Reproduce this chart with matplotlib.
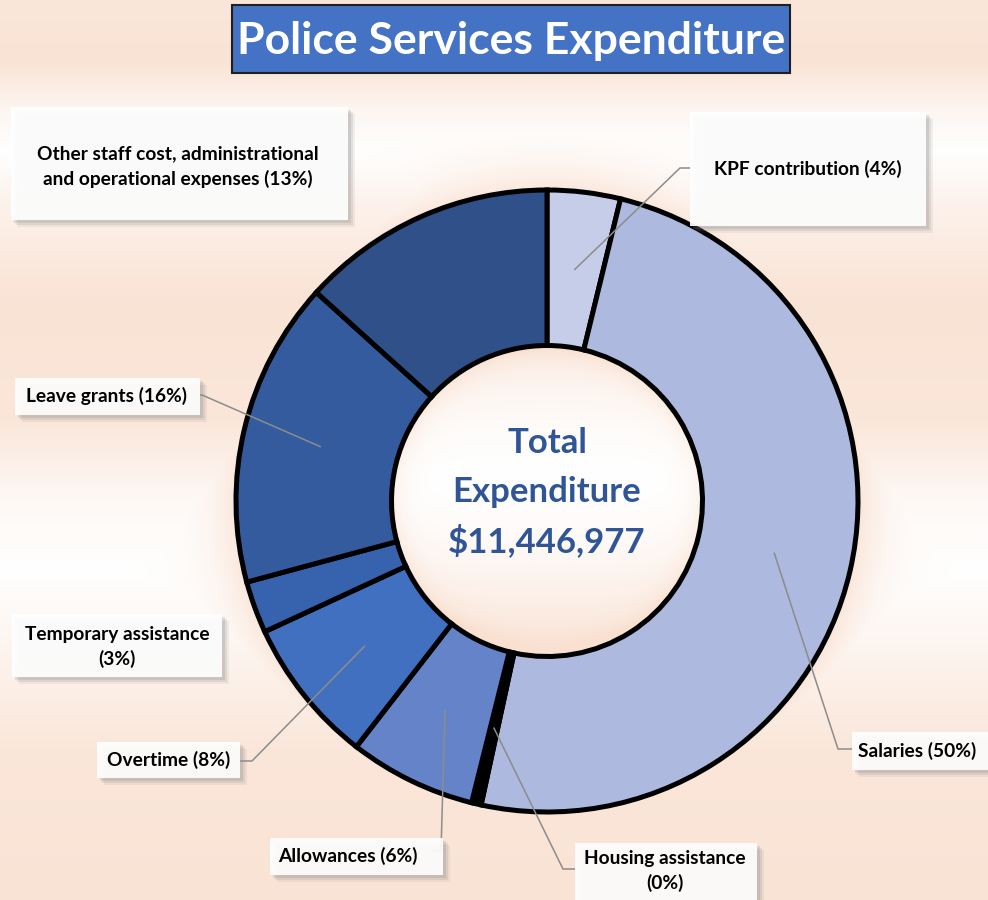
import matplotlib
matplotlib.use('Agg')
import matplotlib.pyplot as plt
from matplotlib.patches import Rectangle
import numpy as np

# data (share of total, %)
categories = ['KPF contribution', 'Salaries', 'Housing assistance', 'Allowances',
              'Overtime', 'Temporary assistance', 'Leave grants',
              'Other staff cost, administrational and operational expenses']
shares = [3.8, 49.6, 0.5, 6.6, 7.6, 2.7, 15.9, 13.3]
pct_labels = ['4%', '50%', '0%', '6%', '8%', '3%', '16%', '13%']
total = '$11,446,977'

colors = ['#C5CDE8', '#ADB9DE', '#000000', '#6583C9', '#4070BF',
          '#3763AE', '#355B9F', '#2F5089']

W, H = 988, 900
CX, CY, R = 547, 501, 311
FONT = 'Lato'

fig = plt.figure(figsize=(W / 100, H / 100), dpi=100)
ax = fig.add_axes([0, 0, 1, 1])
ax.set_xlim(0, W)
ax.set_ylim(H, 0)
ax.axis('off')

# background: peach / white bands plus a soft glow round the ring
yy, xx = np.mgrid[0:H, 0:W]
prof = np.interp(yy, [0, 60, 110, 150, 200, 300, 420, 500, 570, 640, 750, 900],
                 [0.8, 0.9, 0.3, 0.0, 0.4, 0.9, 0.8, 0.2, 0.0, 0.3, 0.8, 0.9])
d = np.hypot(xx - CX, yy - CY)
glow = np.where(d > R, 0.8 * np.exp(-(d - R) / 30.0), 0)
t = np.maximum(prof, glow)
u = (yy - CY) / (R * 0.5)
hole = 0.75 * np.clip(np.abs(u + 0.15), 0, 1) ** 1.6 + 0.5 * np.exp(-(R * 0.5 - d) / 12.0)
t = np.where(d < R * 0.5, np.clip(hole, 0, 1), t)
peach = np.array([249, 224, 208]) / 255.0
img = 1 - t[..., None] * (1 - peach)
ax.imshow(img, extent=(0, W, H, 0), zorder=0, interpolation='bilinear')

# donut
wedges, _ = ax.pie(shares, colors=colors, startangle=-90, counterclock=True,
                   center=(CX, CY), radius=R,
                   wedgeprops=dict(width=R * 0.5, edgecolor='black', linewidth=3.6))
ax.set_xlim(0, W)
ax.set_ylim(H, 0)
ax.set_aspect('equal')

# title
ax.add_patch(Rectangle((232, 5), 558, 68, facecolor='#4472C4', edgecolor='#1F1F1F',
                       linewidth=1.5, zorder=5))
ax.text(511, 41, 'Police Services Expenditure', color='white', fontsize=32,
        fontweight='bold', family=FONT, ha='center', va='center', zorder=6)

# centre text
for txt, y in zip(['Total', 'Expenditure', total], [443, 492, 541]):
    ax.text(CX, y, txt, color='#2F5597', fontsize=25, fontweight='bold', family=FONT,
            ha='center', va='center', zorder=6)

# label boxes: (x0, y0, x1, y1), text lines, text centre
boxes = {
    0: ((690, 112, 926, 226), [categories[0] + ' (' + pct_labels[0] + ')'], (808, 169)),
    1: ((852, 732, 988, 770), [categories[1] + ' (' + pct_labels[1] + ')'], (917, 751)),
    2: ((575, 843, 757, 900), [categories[2], '(' + pct_labels[2] + ')'], (665, 871)),
    3: ((270, 838, 443, 875), [categories[3] + ' (' + pct_labels[3] + ')'], (348, 856)),
    4: ((97, 742, 240, 778), [categories[4] + ' (' + pct_labels[4] + ')'], (169, 760)),
    5: ((12, 614, 222, 677), [categories[5], '(' + pct_labels[5] + ')'], (117, 647)),
    6: ((15, 378, 200, 415), [categories[6] + ' (' + pct_labels[6] + ')'], (106, 396)),
    7: ((11, 107, 348, 220), ['Other staff cost, administrational',
                             'and operational expenses (' + pct_labels[7] + ')'], (178, 167)),
}
for i, ((x0, y0, x1, y1), lines, (tx, ty)) in boxes.items():
    for k, a in [(7, 0.10), (5, 0.15), (3, 0.2)]:
        ax.add_patch(Rectangle((x0 + k, y0 + k), x1 - x0, y1 - y0, facecolor='#7F7F7F',
                               edgecolor='none', alpha=a, zorder=3))
    ax.add_patch(Rectangle((x0, y0), x1 - x0, y1 - y0, facecolor='white',
                           edgecolor='none', alpha=0.92, zorder=4))
    ax.text(tx, ty, '\n'.join(lines), fontsize=13.8, fontweight='bold', family=FONT,
            ha='center', va='center', linespacing=1.5, color='black', zorder=6)

# leader lines from wedge middles: (kink, end)
leaders = {
    0: ((680, 168), (690, 168)),
    1: ((838, 749), (852, 749)),
    2: ((563, 869), (575, 869)),
    3: ((441, 851), (431, 851)),
    4: ((252, 761), (240, 761)),
    6: ((202, 395), (198, 395)),
}
for i, (kink, end) in leaders.items():
    w = wedges[i]
    th = np.deg2rad((w.theta1 + w.theta2) / 2)
    sx, sy = CX + 0.75 * R * np.cos(th), CY + 0.75 * R * np.sin(th)
    ax.plot([sx, kink[0], end[0]], [sy, kink[1], end[1]], color='#8C8C8C',
            linewidth=1.1, zorder=3.5)

fig.savefig('out.png', dpi=100)
